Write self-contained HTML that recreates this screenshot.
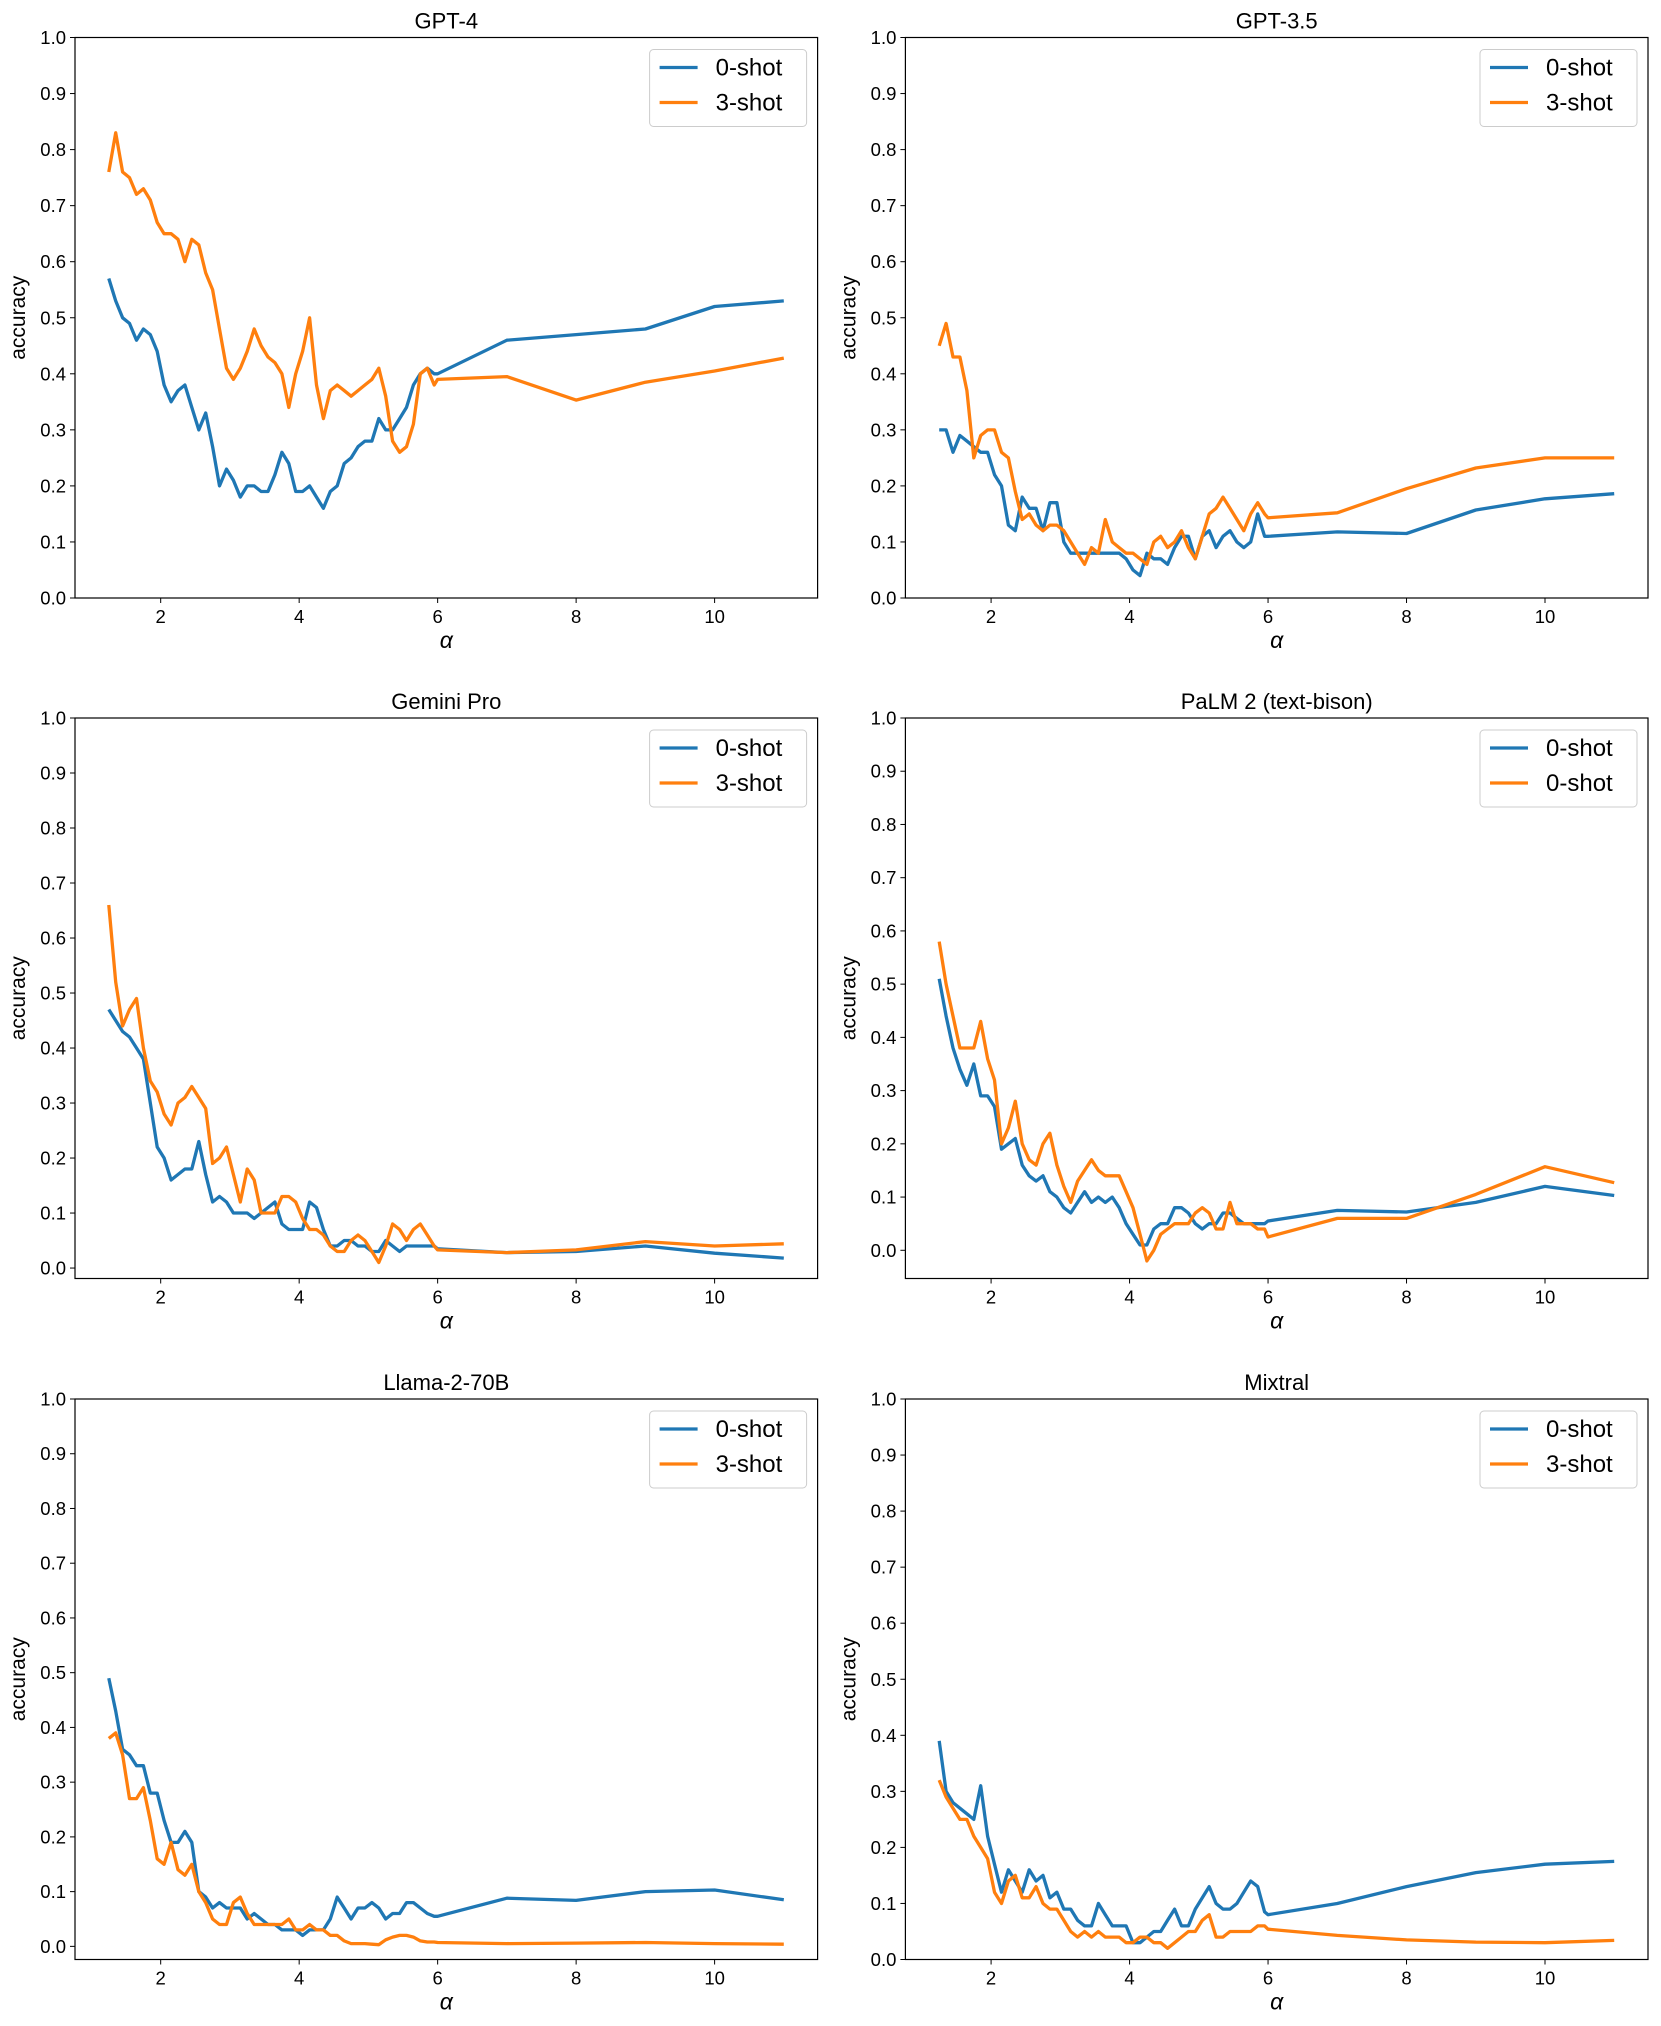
<!DOCTYPE html>
<html><head><meta charset="utf-8"><style>
body{margin:0;background:#fff;}
svg{display:block;font-family:"Liberation Sans","DejaVu Sans",sans-serif;}
</style></head><body>
<svg id="fig" width="1661" height="2026" viewBox="0 0 1661 2026" xmlns="http://www.w3.org/2000/svg"></svg>
<script>
const alpha = [1.25,1.35,1.45,1.55,1.65,1.75,1.85,1.95,2.05,2.15,2.25,2.35,2.45,2.55,2.65,2.75,2.85,2.95,3.05,3.15,3.25,3.35,3.45,3.55,3.65,3.75,3.85,3.95,4.05,4.15,4.25,4.35,4.45,4.55,4.65,4.75,4.85,4.95,5.05,5.15,5.25,5.35,5.45,5.55,5.65,5.75,5.85,5.95,6,7,8,9,10,11];
const xTicks = [2,4,6,8,10];
const yTicks = [0,0.1,0.2,0.3,0.4,0.5,0.6,0.7,0.8,0.9,1.0];
const titles = ["GPT-4","GPT-3.5","Gemini Pro","PaLM 2 (text-bison)","Llama-2-70B","Mixtral"];
const legendLabels = [["0-shot","3-shot"],["0-shot","3-shot"],["0-shot","3-shot"],["0-shot","0-shot"],["0-shot","3-shot"],["0-shot","3-shot"]];
const yMins = [0,0,-0.019,-0.053,-0.024,0];
const gpt4Zero = [.57,.53,.50,.49,.46,.48,.47,.44,.38,.35,.37,.38,.34,.30,.33,.27,.20,.23,.21,.18,.20,.20,.19,.19,.22,.26,.24,.19,.19,.20,.18,.16,.19,.20,.24,.25,.27,.28,.28,.32,.30,.30,.32,.34,.38,.40,.41,.40,.40,.46,.47,.48,.52,.53];
const gpt4Three = [.76,.83,.76,.75,.72,.73,.71,.67,.65,.65,.64,.60,.64,.63,.58,.55,.48,.41,.39,.41,.44,.48,.45,.43,.42,.40,.34,.40,.44,.50,.38,.32,.37,.38,.37,.36,.37,.38,.39,.41,.36,.28,.26,.27,.31,.40,.41,.38,.39,.395,.353,.385,.405,.428];
const gpt35Zero = [.30,.30,.26,.29,.28,.27,.26,.26,.22,.20,.13,.12,.18,.16,.16,.12,.17,.17,.10,.08,.08,.08,.08,.08,.08,.08,.08,.07,.05,.04,.08,.07,.07,.06,.09,.11,.11,.07,.11,.12,.09,.11,.12,.10,.09,.10,.15,.11,.11,.118,.115,.157,.177,.186];
const gpt35Three = [.45,.49,.43,.43,.37,.25,.29,.30,.30,.26,.25,.19,.14,.15,.13,.12,.13,.13,.12,.10,.08,.06,.09,.08,.14,.10,.09,.08,.08,.07,.06,.10,.11,.09,.10,.12,.09,.07,.11,.15,.16,.18,.16,.14,.12,.15,.17,.15,.143,.152,.195,.232,.25,.25];
const geminiZero = [.47,.45,.43,.42,.40,.38,.30,.22,.20,.16,.17,.18,.18,.23,.17,.12,.13,.12,.10,.10,.10,.09,.10,.11,.12,.08,.07,.07,.07,.12,.11,.07,.04,.04,.05,.05,.04,.04,.03,.03,.05,.04,.03,.04,.04,.04,.04,.04,.035,.028,.03,.04,.027,.018];
const geminiThree = [.66,.52,.44,.47,.49,.40,.34,.32,.28,.26,.30,.31,.33,.31,.29,.19,.20,.22,.17,.12,.18,.16,.10,.10,.10,.13,.13,.12,.09,.07,.07,.06,.04,.03,.03,.05,.06,.05,.03,.01,.04,.08,.07,.05,.07,.08,.06,.04,.033,.028,.033,.048,.04,.044];
const palmZero = [.51,.44,.38,.34,.31,.35,.29,.29,.27,.19,.20,.21,.16,.14,.13,.14,.11,.10,.08,.07,.09,.11,.09,.10,.09,.10,.08,.05,.03,.01,.01,.04,.05,.05,.08,.08,.07,.05,.04,.05,.05,.07,.07,.06,.05,.05,.05,.05,.055,.075,.072,.09,.12,.103];
const palmThree = [.58,.50,.44,.38,.38,.38,.43,.36,.32,.20,.23,.28,.20,.17,.16,.20,.22,.16,.12,.09,.13,.15,.17,.15,.14,.14,.14,.11,.08,.03,-.02,.00,.03,.04,.05,.05,.05,.07,.08,.07,.04,.04,.09,.05,.05,.05,.04,.04,.025,.06,.06,.105,.157,.127];
const llamaZero = [.49,.43,.36,.35,.33,.33,.28,.28,.23,.19,.19,.21,.19,.10,.09,.07,.08,.07,.07,.07,.05,.06,.05,.04,.04,.03,.03,.03,.02,.03,.03,.03,.05,.09,.07,.05,.07,.07,.08,.07,.05,.06,.06,.08,.08,.07,.06,.055,.055,.088,.084,.1,.103,.085];
const llamaThree = [.38,.39,.35,.27,.27,.29,.23,.16,.15,.19,.14,.13,.15,.10,.08,.05,.04,.04,.08,.09,.06,.04,.04,.04,.04,.04,.05,.03,.03,.04,.03,.03,.02,.02,.01,.005,.005,.005,.004,.003,.012,.017,.02,.02,.017,.01,.008,.008,.007,.005,.006,.007,.005,.004];
const mixtralZero = [.39,.30,.28,.27,.26,.25,.31,.22,.17,.12,.16,.14,.12,.16,.14,.15,.11,.12,.09,.09,.07,.06,.06,.10,.08,.06,.06,.06,.03,.03,.04,.05,.05,.07,.09,.06,.06,.09,.11,.13,.10,.09,.09,.10,.12,.14,.13,.085,.08,.1,.13,.155,.17,.175];
const mixtralThree = [.32,.29,.27,.25,.25,.22,.20,.18,.12,.10,.14,.15,.11,.11,.13,.10,.09,.09,.07,.05,.04,.05,.04,.05,.04,.04,.04,.03,.03,.04,.04,.03,.03,.02,.03,.04,.05,.05,.07,.08,.04,.04,.05,.05,.05,.05,.06,.06,.054,.043,.035,.031,.03,.034];
const seriesZero = [gpt4Zero,gpt35Zero,geminiZero,palmZero,llamaZero,mixtralZero];
const seriesThree = [gpt4Three,gpt35Three,geminiThree,palmThree,llamaThree,mixtralThree];

const NS="http://www.w3.org/2000/svg";
const svg=document.getElementById('fig');
function mk(tag,attrs,parent){const e=document.createElementNS(NS,tag);for(const k in attrs)e.setAttribute(k,attrs[k]);(parent||svg).appendChild(e);return e;}
const colLeft=[75,905.4], axW=742.6;
const rowTop=[37.5,718,1399], axH=560.5;
const xMin=0.7625, xMax=11.4875;
const slug=["gpt-4","gpt-3-5","gemini-pro","palm-2","llama-2-70b","mixtral"];

for(let p=0;p<6;p++){
  const L=colLeft[p%2], T=rowTop[Math.floor(p/2)], R=L+axW, B=T+axH;
  const yMin=yMins[p], yMax=1.0;
  const xs=v=>L+(v-xMin)/(xMax-xMin)*axW;
  const ys=v=>B-(v-yMin)/(yMax-yMin)*axH;
  const g=mk('g',{});
  
  
  const t=mk('text',{x:(L+R)/2,y:T-9,'text-anchor':'middle','font-size':22,fill:'#000'},g);
  t.textContent=titles[p];
  
  
  yTicks.forEach(v=>{
    const y=ys(v);
    const tk=mk('line',{x1:L-5,x2:L,y1:y,y2:y,stroke:'#000','stroke-width':1},g);
    
    
    const lb=mk('text',{x:L-9,y:y+6.5,'text-anchor':'end','font-size':18.5,fill:'#000'},g);
    lb.textContent=v.toFixed(1);
    
    
  });
  xTicks.forEach(v=>{
    const x=xs(v);
    const tk=mk('line',{x1:x,x2:x,y1:B,y2:B+5,stroke:'#000','stroke-width':1},g);
    
    
    const lb=mk('text',{x:x,y:B+25,'text-anchor':'middle','font-size':18.5,fill:'#000'},g);
    lb.textContent=String(v);
    
    
  });
  const yl=mk('text',{x:0,y:0,transform:`translate(${L-50},${(T+B)/2}) rotate(-90)`,'text-anchor':'middle','font-size':21,fill:'#000'},g);
  yl.textContent='accuracy';
  
  
  const xl=mk('text',{x:(L+R)/2,y:B+50,'text-anchor':'middle','font-size':23,'font-style':'italic',fill:'#000'},g);
  xl.textContent='α';
  
  
  const cp=mk('clipPath',{id:'c'+p},g);
  mk('rect',{x:L,y:T,width:axW,height:axH},cp);
  const lines=[[seriesZero[p],'#1f77b4'],[seriesThree[p],'#ff7f0e']];
  lines.forEach((s,i)=>{
    const d=s[0].map((v,j)=>(j?'L':'M')+xs(alpha[j]).toFixed(1)+','+ys(v).toFixed(1)).join('');
    const pl=mk('path',{d:d,fill:'none',stroke:s[1],'stroke-width':3.3,'stroke-linejoin':'round','clip-path':`url(#c${p})`},g);
    
    
  });
  const frame=mk('rect',{x:L,y:T,width:axW,height:axH,fill:'none',stroke:'#000','stroke-width':1.2},g);
  
  
  const lg=mk('g',{},g);
  
  
  mk('rect',{x:R-168,y:T+12,width:157,height:77,rx:4,fill:'#fff',stroke:'#ccc','stroke-width':1},lg);
  ['#1f77b4','#ff7f0e'].forEach((c,i)=>{
    const yy=T+30+i*35;
    const ln=mk('line',{x1:R-158,x2:R-120,y1:yy,y2:yy,stroke:c,'stroke-width':3.3},lg);
    
    
    const tx=mk('text',{x:R-102,y:yy+8,'font-size':24,fill:'#000'},lg);
    tx.textContent=legendLabels[p][i];
    
    
  });
}
</script>
</body></html>
